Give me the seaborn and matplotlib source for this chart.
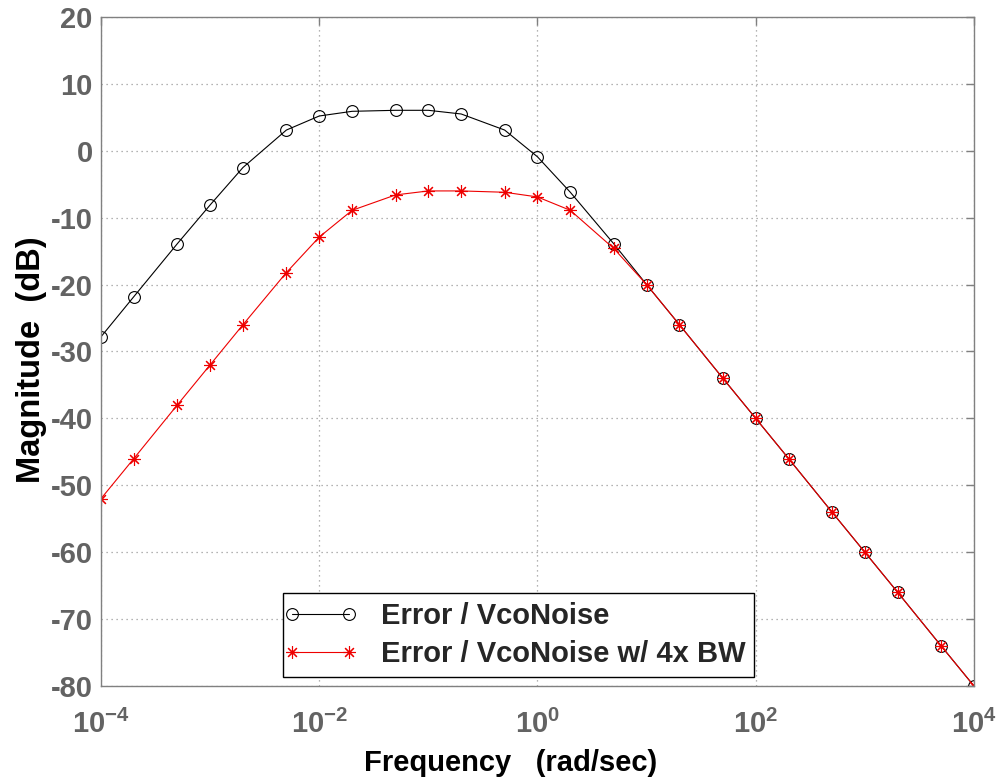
"""Bode magnitude plot: Error / VcoNoise, with and without 4x bandwidth."""

import matplotlib
matplotlib.use("Agg")
import matplotlib.pyplot as plt
import matplotlib.ticker as mticker
import pandas as pd
import seaborn as sns
from matplotlib.legend_handler import HandlerLine2D
from matplotlib.lines import Line2D

# frequencies where the markers sit (rad/sec)
freq = [1e-4, 2e-4, 5e-4, 1e-3, 2e-3, 5e-3, 1e-2, 2e-2, 5e-2, 1e-1, 2e-1, 5e-1,
        1, 2, 5, 10, 20, 50, 100, 200, 500, 1000, 2000, 5000, 1e4]
# magnitude (dB)
err_vco = [-27.8, -21.8, -13.9, -8.1, -2.5, 3.1, 5.2, 5.9, 6.05, 6.05, 5.5, 3.1,
           -0.9, -6.2, -13.9, -20, -26, -34, -40, -46, -54, -60, -66, -74, -80]
err_vco_4x = [-52, -46, -38, -32, -26, -18.2, -12.9, -8.9, -6.6, -6.0, -6.0, -6.2,
              -6.9, -8.9, -14.6, -20, -26, -34, -40, -46, -54, -60, -66, -74, -80]

x_ticks = [1e-4, 1e-2, 1, 1e2, 1e4]
y_ticks = [-80, -70, -60, -50, -40, -30, -20, -10, 0, 10, 20]

labels = ["Error / VcoNoise", "Error / VcoNoise w/ 4x BW"]

sns.set_style("white")
plt.rcParams["font.family"] = ["Liberation Sans", "DejaVu Sans"]
plt.rcParams["font.weight"] = "bold"
plt.rcParams["axes.unicode_minus"] = False
plt.rcParams["mathtext.fontset"] = "custom"
plt.rcParams["mathtext.bf"] = "Liberation Sans:bold"
plt.rcParams["mathtext.rm"] = "Liberation Sans:bold"
plt.rcParams["mathtext.default"] = "bf"

AXIS_GRAY = "#808080"
TICK_GRAY = "#636363"
RED = "#ee0000"


def main():
    df = pd.DataFrame({
        "freq": freq * 2,
        "mag": err_vco + err_vco_4x,
        "curve": [labels[0]] * len(freq) + [labels[1]] * len(freq),
    })

    fig = plt.figure(figsize=(9.98, 7.79), dpi=100)
    ax = fig.add_axes([0.1012, 0.1194, 0.8747, 0.8588])

    sns.lineplot(data=df[df.curve == labels[0]], x="freq", y="mag", ax=ax,
                 color="black", lw=0.8, marker="o", markersize=8.5,
                 markerfacecolor="none", markeredgecolor="black",
                 markeredgewidth=0.8, label=labels[0])
    sns.lineplot(data=df[df.curve == labels[1]], x="freq", y="mag", ax=ax,
                 color=RED, lw=0.8, marker=(8, 2, 0), markersize=9,
                 markeredgecolor=RED, markeredgewidth=0.8,
                 label=labels[1])

    ax.set_xscale("log")
    ax.set_xlim(1e-4, 1e4)
    ax.set_ylim(-80, 20)
    ax.xaxis.set_major_locator(mticker.FixedLocator(x_ticks))
    ax.xaxis.set_minor_locator(mticker.NullLocator())
    ax.set_yticks(y_ticks)

    ax.grid(True, color="#9a9a9a", linestyle=(0, (1, 3)), linewidth=0.9)
    for side in ax.spines.values():
        side.set_color(AXIS_GRAY)
        side.set_linewidth(1.0)
    ax.tick_params(direction="in", length=6, width=1.0, color=AXIS_GRAY,
                   labelcolor=TICK_GRAY, labelsize=21,
                   top=True, right=True)
    ax.tick_params(axis="x", pad=17)
    ax.tick_params(axis="y", pad=6)

    ax.set_xlabel("Frequency   (rad/sec)", fontsize=21, fontweight="bold",
                  color="black")
    ax.set_ylabel("Magnitude  (dB)", fontsize=23.5, fontweight="bold",
                  color="black")
    ax.xaxis.set_label_coords(0.4697, -0.115)
    ax.yaxis.set_label_coords(-0.080, 0.487)
    ax.xaxis.label.set_va("center")
    ax.yaxis.label.set_va("center")

    leg = ax.legend(loc="lower left", bbox_to_anchor=(0.2085, 0.0135),
                    fontsize=21, numpoints=2, handlelength=1.95,
                    handletextpad=1.1, borderpad=0.3, labelspacing=0.35,
                    borderaxespad=0, fancybox=False, framealpha=1,
                    handler_map={Line2D: HandlerLine2D(marker_pad=0)})
    leg.get_frame().set_edgecolor("black")
    leg.get_frame().set_linewidth(1.0)
    for text in leg.get_texts():
        text.set_fontweight("bold")

    fig.savefig("out.png", dpi=100)


if __name__ == "__main__":
    main()
